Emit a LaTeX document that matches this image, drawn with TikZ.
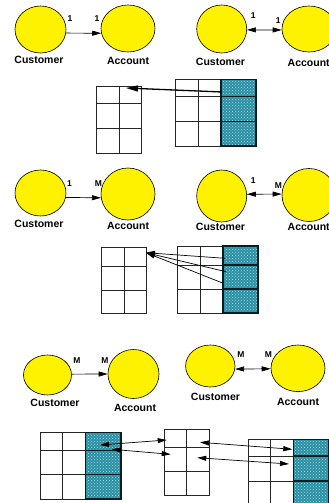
\documentclass[tikz,border=0pt]{standalone}
\usepackage{fontspec}
\setmainfont{Liberation Sans}
\usetikzlibrary{shapes.geometric,arrows.meta,patterns}
\definecolor{tealc}{HTML}{2A8FA2}
\definecolor{dotc}{HTML}{A8DDE6}
\begin{document}
\begin{tikzpicture}[x=1pt,y=-1pt,
  ent/.style={ellipse, draw=black, line width=0.6pt, fill=yellow, inner sep=0pt},
  lbl/.style={font=\bfseries\fontsize{10.5}{12}\selectfont, inner sep=0pt},
  card/.style={font=\bfseries\fontsize{8.5}{10}\selectfont, inner sep=0pt},
  rel/.style={line width=0.7pt, -{Triangle[length=9pt,width=5pt]}},
  relb/.style={line width=0.7pt, {Triangle[length=9pt,width=5pt]}-{Triangle[length=9pt,width=5pt]}},
  bigrel/.style={line width=1.3pt, -{Triangle[length=12pt,width=6pt]}},
  tbl/.style={draw=black!85, line width=0.8pt},
  shd/.style={fill=tealc, postaction={pattern=crosshatch dots, pattern color=dotc}},
  shdl/.style={draw=black!80!tealc, line width=1.1pt}]
\clip (0,0) rectangle (329,503);
\fill[white] (0,0) rectangle (329,503);

% ---------- Panel 1 ----------
\node[ent, minimum width=51pt, minimum height=47pt] (C1) at (40.5,29.5) {};
\node[ent, minimum width=54pt, minimum height=47pt] (A1) at (128,28.5) {};
\node[lbl] (tC1) at (39,60) {Customer};
\node[lbl] (tA1) at (128,61) {Account};
\node[card] (k1a) at (70,19) {1};
\node[card] (k1b) at (97,19) {1};
\draw[rel] (C1.-8) -- (A1.190);

\draw[tbl] (96,86) rectangle (141,153);
\draw[tbl] (96,103) -- (141,103) (96,128) -- (141,128) (119,86) -- (119,153);

\path[shd] (221,79.3) rectangle (256,146);
\draw[tbl] (175,79.3) rectangle (256,146);
\draw[tbl] (175,96.7) -- (221,96.7) (175,121.7) -- (221,121.7) (198,79.3) -- (198,146);
\draw[shdl] (221,79.3) rectangle (256,146);
\draw[shdl] (221,96.7) -- (256,96.7) (221,121.7) -- (256,121.7);
\coordinate (p1s) at (222,92);
\coordinate (p1e) at (126,88);
\draw[bigrel] (p1s) -- (p1e);

% ---------- Panel 2 ----------
\node[ent, minimum width=50pt, minimum height=48pt] (C2) at (221.7,29) {};
\node[ent, minimum width=54pt, minimum height=46pt] (A2) at (309,29) {};
\node[lbl] (tC2) at (220.5,62) {Customer};
\node[lbl] (tA2) at (308.7,63) {Account};
\node[card] (k2a) at (253.3,15.7) {1};
\node[card] (k2b) at (278.3,21) {1};
\draw[relb] (C2.-2) -- (A2.182);

% ---------- Panel 3 ----------
\node[ent, minimum width=51pt, minimum height=46pt] (C3) at (40.5,193) {};
\node[ent, minimum width=54pt, minimum height=52pt] (A3) at (128,194) {};
\node[lbl] (tC3) at (39,224) {Customer};
\node[lbl] (tA3) at (128,225.5) {Account};
\node[card] (k3a) at (69.5,184) {1};
\node[card] (k3b) at (98.3,184) {M};
\draw[rel] (C3.-10.7) -- (A3.188);

\draw[tbl] (101.7,247.7) rectangle (146,313);
\draw[tbl] (101.7,266) -- (146,266) (101.7,290) -- (146,290) (124,247.7) -- (124,313);

\path[shd] (223,246) rectangle (258,313);
\draw[tbl] (177,246) rectangle (258,313);
\draw[tbl] (177,265) -- (223,265) (177,289) -- (223,289) (200,246) -- (200,313);
\draw[shdl] (223,246) rectangle (258,313);
\draw[shdl] (223,265) -- (258,265) (223,289) -- (258,289);
\coordinate (p3e) at (146,252.7);
\coordinate (p3a) at (225,258.3);
\coordinate (p3b) at (226,271.7);
\coordinate (p3c) at (223.3,283.3);
\draw[rel] (p3a) -- (p3e);
\draw[rel] (p3b) -- (p3e);
\draw[rel] (p3c) -- (p3e);

% ---------- Panel 4 ----------
\node[ent, minimum width=50pt, minimum height=52pt] (C4) at (221.7,196) {};
\node[ent, minimum width=54pt, minimum height=53pt] (A4) at (309,195) {};
\node[lbl] (tC4) at (220.5,227) {Customer};
\node[lbl] (tA4) at (308.7,227) {Account};
\node[card] (k4a) at (253.3,180.7) {1};
\node[card] (k4b) at (278.3,186) {M};
\draw[relb] (C4.4) -- (A4.178.5);

% ---------- Panel 5 ----------
\node[ent, minimum width=48pt, minimum height=40pt] (C5) at (47.5,375) {};
\node[ent, minimum width=51pt, minimum height=49pt] (A5) at (133.5,374) {};
\node[lbl] (tC5) at (55,402.5) {Customer};
\node[lbl] (tA5) at (135,408) {Account};
\node[card] (k5a) at (77,360.7) {M};
\node[card] (k5b) at (105,360.7) {M};
\draw[rel] (C5.2) -- (A5.180);

% ---------- Panel 6 ----------
\node[ent, minimum width=49.4pt, minimum height=42pt] (C6) at (210.3,366) {};
\node[ent, minimum width=54pt, minimum height=46.6pt] (A6) at (298,368.3) {};
\node[lbl] (tC6) at (215.5,397.3) {Customer};
\node[lbl] (tA6) at (298,402.3) {Account};
\node[card] (k6a) at (241,355) {M};
\node[card] (k6b) at (268.3,355) {M};
\draw[relb] (C6.-7) -- (A6.181.5);

% bottom-left table
\path[shd] (85.3,432.7) rectangle (121,499);
\draw[tbl] (40,432.7) rectangle (121,499);
\draw[tbl] (40,450.7) -- (85.3,450.7) (40,474.3) -- (85.3,474.3) (62.7,432.7) -- (62.7,499);
\draw[shdl] (85.3,432.7) rectangle (121,499);
\draw[shdl] (85.3,450.7) -- (121,450.7) (85.3,474.3) -- (121,474.3);

% middle table
\draw[tbl] (164,429.3) rectangle (209,495);
\draw[tbl] (164,447.3) -- (209,447.3) (164,471.7) -- (209,471.7) (186.7,429.3) -- (186.7,495);

% right table
\path[shd] (293.3,439.3) rectangle (328.3,506);
\draw[tbl] (248.3,439.3) rectangle (328.3,506);
\draw[tbl] (248.3,456) -- (293.3,456) (248.3,481) -- (293.3,481) (270.7,439.3) -- (270.7,506);
\draw[shdl] (293.3,439.3) rectangle (328.3,506);
\draw[shdl] (293.3,456) -- (328.3,456) (293.3,481) -- (328.3,481);

\coordinate (q1a) at (100,445);
\coordinate (q1b) at (166.7,440);
\coordinate (q2a) at (111.7,449.3);
\coordinate (q2b) at (170.7,454.3);
\coordinate (q3a) at (200,442.3);
\coordinate (q3b) at (292.3,449.3);
\coordinate (q4a) at (197.3,457.7);
\coordinate (q4b) at (289,464);
\draw[relb] (q1a) -- (q1b);
\draw[relb] (q2a) -- (q2b);
\draw[relb] (q3a) -- (q3b);
\draw[relb] (q4a) -- (q4b);
\end{tikzpicture}
\end{document}
